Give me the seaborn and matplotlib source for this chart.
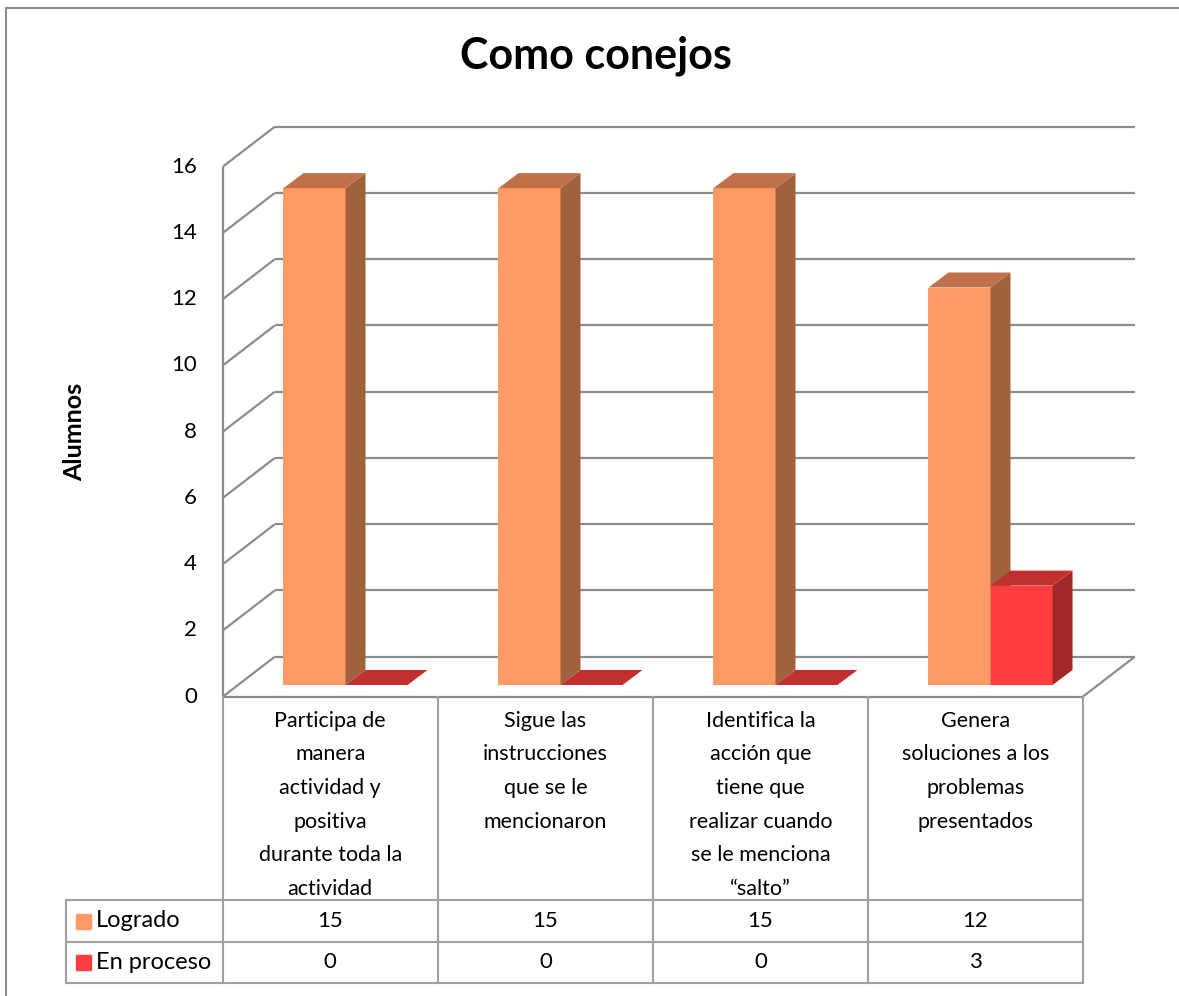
import pandas as pd
import matplotlib.pyplot as plt
import seaborn as sns
from matplotlib.patches import Polygon
from matplotlib.lines import Line2D

# ============================
# DATOS
# ============================
categorias = [
    "Participa de\nmanera\nactividad y\npositiva\ndurante toda la\nactividad",
    "Sigue las\ninstrucciones\nque se le\nmencionaron",
    "Identifica la\nacción que\ntiene que\nrealizar cuando\nse le menciona\n“salto”",
    "Genera\nsoluciones a los\nproblemas\npresentados",
]
series = ["Logrado", "En proceso"]
logrado = [15, 15, 15, 12]
en_proceso = [0, 0, 0, 3]
yticks = [0, 2, 4, 6, 8, 10, 12, 14, 16]

# colores: frente, lado, tapa
colores = {
    "Logrado": ("#FF9966", "#A0623D", "#C0714A"),
    "En proceso": ("#FF3F3F", "#A02828", "#C03030"),
}
GRIS = "#8C8C8C"
GRIS_TABLA = "#A0A0A0"

# ============================
# GEOMETRIA (pixeles)
# ============================
W, H = 1179, 996
UX = 215.0      # px por categoria
UY = 33.125     # px por alumno
FRENTE = (-15.2 / UX, -11.7 / UY)
FONDO = (36.8 / UX, 28.3 / UY)
PROF = (20 / UX, 15 / UY)

sns.set_style("white")
plt.rcParams['font.family'] = ['Lato', 'DejaVu Sans']
plt.rcParams['text.color'] = 'black'

df = pd.DataFrame({
    "Categoria": categorias * 2,
    "Serie": [series[0]] * 4 + [series[1]] * 4,
    "Alumnos": logrado + en_proceso,
})

fig = plt.figure(figsize=(W / 100, H / 100), dpi=100)
ax = fig.add_axes([238 / W, 1 - 685 / H, 4 * UX / W, 16 * UY / H])

sns.barplot(data=df, x="Categoria", y="Alumnos", hue="Serie",
            order=categorias, hue_order=series,
            palette=[colores[s][0] for s in series],
            width=0.577, saturation=1, errorbar=None, legend=False, ax=ax)
ax.set_xlim(-0.5, 3.5)
ax.set_ylim(0, 16)
ax.set_axis_off()

# caras 3D de las barras
for z, (cont, serie) in enumerate(zip(ax.containers, series)):
    _, lado, tapa = colores[serie]
    for p in cont:
        x0, w, h = p.get_x(), p.get_width(), p.get_height()
        x1 = x0 + w
        dx, dy = PROF
        p.set_zorder(3 + z)
        p.set_edgecolor("none")
        ax.add_patch(Polygon([(x1, 0), (x1 + dx, dy), (x1 + dx, h + dy), (x1, h)],
                             closed=True, facecolor=lado, edgecolor="none",
                             zorder=3 + z, clip_on=False))
        ax.add_patch(Polygon([(x0, h), (x1, h), (x1 + dx, h + dy), (x0 + dx, h + dy)],
                             closed=True, facecolor=tapa, edgecolor="none",
                             zorder=3 + z, clip_on=False))

# paredes y cuadricula
kw = dict(color=GRIS, lw=1.6, zorder=1, clip_on=False, solid_capstyle="butt")
for y in yticks:
    ax.plot([-0.5 + FONDO[0], 3.5 + FONDO[0]], [y + FONDO[1], y + FONDO[1]], **kw)
    ax.plot([-0.5 + FRENTE[0], -0.5 + FONDO[0]], [y + FRENTE[1], y + FONDO[1]], **kw)
    ax.text(-0.5 + FRENTE[0] - 26 / UX, y + FRENTE[1], str(y),
            ha="right", va="center", fontsize=16)
ax.plot([-0.5 + FRENTE[0]] * 2, [FRENTE[1], 16 + FRENTE[1]], **kw)
ax.plot([-0.5 + FRENTE[0], 3.5 + FRENTE[0]], [FRENTE[1], FRENTE[1]], **kw)
ax.plot([3.5 + FRENTE[0], 3.5 + FONDO[0]], [FRENTE[1], FONDO[1]], **kw)

# ============================
# TABLA DE DATOS
# ============================
ax_t = fig.add_axes([66 / W, 1 - 982.7 / H, (1083 - 66) / W, (982.7 - 696.7) / H])
x_ini = -0.5 - (222.7 - 66) / UX
ax_t.set_xlim(x_ini, 3.5)
ax_t.set_ylim(0, 286)
ax_t.set_axis_off()

kt = dict(color=GRIS_TABLA, lw=1.5, clip_on=False, solid_capstyle="projecting")
for yy in [0, 41, 82.7]:
    ax_t.plot([x_ini, 3.5], [yy, yy], **kt)
ax_t.plot([x_ini, x_ini], [0, 82.7], **kt)
for xx in [-0.5, 0.5, 1.5, 2.5, 3.5]:
    ax_t.plot([xx, xx], [0, 286], **kt)

for i, cat in enumerate(categorias):
    ax_t.text(i, 286 - 14, cat, ha="center", va="top", fontsize=15.5, linespacing=1.85)

filas = {"Logrado": (logrado, 61.8), "En proceso": (en_proceso, 20.5)}
for serie in series:
    valores, yc = filas[serie]
    ax_t.plot([x_ini + 16.5 / UX], [yc], marker="s", ms=10.8, color=colores[serie][0],
              clip_on=False)
    ax_t.text(x_ini + 30 / UX, yc, serie, ha="left", va="center", fontsize=17)
    for i, v in enumerate(valores):
        ax_t.text(i, yc, str(v), ha="center", va="center", fontsize=16)

# titulo y eje
fig.text(596 / W, 1 - 68 / H, "Como conejos", ha="center", va="baseline",
         fontsize=31, fontweight="bold")
fig.text(75 / W, 1 - 432 / H, "Alumnos", ha="center", va="center",
         rotation=90, fontsize=18, fontweight="bold")

# borde exterior
fig.add_artist(Line2D([5.5 / W, 5.5 / W], [0, 1 - 8 / H], transform=fig.transFigure,
                      color=GRIS, lw=1.5))
fig.add_artist(Line2D([5.5 / W, 1], [1 - 8 / H, 1 - 8 / H], transform=fig.transFigure,
                      color=GRIS, lw=1.5))

fig.savefig("out.png", dpi=100)
